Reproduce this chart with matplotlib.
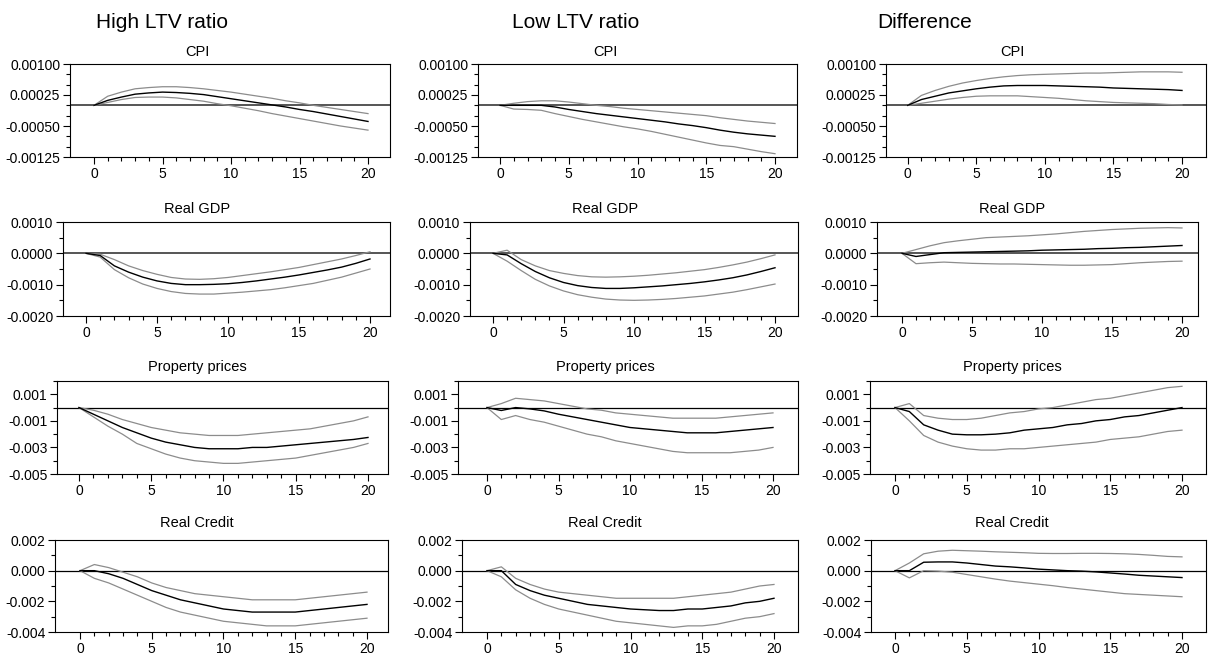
import matplotlib
matplotlib.use("Agg")
import matplotlib.pyplot as plt
from matplotlib.ticker import FixedLocator, MultipleLocator, FuncFormatter
import numpy as np

plt.rcParams['font.family'] = ['Liberation Sans', 'DejaVu Sans']

horizon = list(range(21))
columns = ["High LTV ratio", "Low LTV ratio", "Difference"]
variables = ["CPI", "Real GDP", "Property prices", "Real Credit"]

# ---------------- CPI ----------------
cpi_high_mid = [0, 0.00012, 0.0002, 0.00027, 0.0003, 0.00032, 0.00031, 0.00029, 0.00026, 0.00021, 0.00016,
                0.00011, 0.00006, 0.00001, -0.00004, -0.0001, -0.00015, -0.00021, -0.00027, -0.00033, -0.00039]
cpi_high_up = [0, 0.00022, 0.00032, 0.0004, 0.00043, 0.00045, 0.00045, 0.00043, 0.0004, 0.00036, 0.00032,
               0.00027, 0.00022, 0.00017, 0.00011, 0.00006, 0.0, -0.00005, -0.0001, -0.00015, -0.0002]
cpi_high_lo = [0, 0.00007, 0.00014, 0.00019, 0.0002, 0.0002, 0.00018, 0.00014, 0.0001, 0.00004, -0.00001,
               -0.00007, -0.00013, -0.0002, -0.00026, -0.00032, -0.00038, -0.00044, -0.0005, -0.00055, -0.0006]
cpi_low_mid = [0, 0, 0, 0, -0.00004, -0.0001, -0.00015, -0.0002, -0.00024, -0.00028, -0.00032,
               -0.00036, -0.0004, -0.00045, -0.00049, -0.00054, -0.0006, -0.00065, -0.00069, -0.00072, -0.00075]
cpi_low_up = [0, 0.00005, 0.00009, 0.00011, 0.00011, 0.00008, 0.00004, 0.0, -0.00003, -0.00007, -0.0001,
              -0.00013, -0.00016, -0.00019, -0.00022, -0.00025, -0.0003, -0.00034, -0.00038, -0.00041, -0.00044]
cpi_low_lo = [0, -0.00009, -0.0001, -0.00012, -0.0002, -0.00027, -0.00034, -0.0004, -0.00046, -0.00052, -0.00057,
              -0.00063, -0.0007, -0.00077, -0.00084, -0.00091, -0.00097, -0.001, -0.00106, -0.00112, -0.00117]
cpi_diff_mid = [0, 0.00014, 0.00022, 0.0003, 0.00035, 0.0004, 0.00044, 0.00047, 0.00048, 0.00048, 0.00048,
                0.00047, 0.00046, 0.00045, 0.00044, 0.00042, 0.00041, 0.0004, 0.00039, 0.00038, 0.00036]
cpi_diff_up = [0, 0.00024, 0.00036, 0.00046, 0.00054, 0.0006, 0.00065, 0.00069, 0.00072, 0.00074, 0.00075,
               0.00076, 0.00077, 0.00078, 0.00078, 0.00079, 0.0008, 0.00081, 0.00081, 0.00081, 0.0008]
cpi_diff_lo = [0, 0.00005, 0.0001, 0.00015, 0.00019, 0.00022, 0.00023, 0.00023, 0.00023, 0.00021, 0.00019,
               0.00017, 0.00014, 0.00011, 0.00009, 0.00007, 0.00006, 0.00005, 0.00004, 0.00002, 0.00001]

# ---------------- Real GDP ----------------
gdp_high_mid = [0, -0.00007, -0.0004, -0.0006, -0.00076, -0.00088, -0.00096, -0.001, -0.001, -0.00099, -0.00097,
                -0.00093, -0.00088, -0.00082, -0.00076, -0.00069, -0.00061, -0.00053, -0.00044, -0.00032, -0.00018]
gdp_high_up = [0, -0.00003, -0.0002, -0.0004, -0.00055, -0.00067, -0.00077, -0.00082, -0.00083, -0.00081, -0.00077,
               -0.00071, -0.00065, -0.00059, -0.00052, -0.00045, -0.00036, -0.00027, -0.00018, -0.00007, 0.00005]
gdp_high_lo = [0, -0.00012, -0.00052, -0.00078, -0.00098, -0.00112, -0.00122, -0.00128, -0.0013, -0.0013, -0.00127,
               -0.00124, -0.0012, -0.00116, -0.0011, -0.00103, -0.00096, -0.00086, -0.00076, -0.00063, -0.0005]
gdp_low_mid = [0, -0.00005, -0.00033, -0.00058, -0.00078, -0.00093, -0.00103, -0.00109, -0.00112, -0.00112, -0.0011,
               -0.00107, -0.00104, -0.001, -0.00096, -0.00091, -0.00085, -0.00078, -0.00069, -0.00058, -0.00046]
gdp_low_up = [0, 0.0001, -0.0002, -0.0004, -0.00055, -0.00064, -0.00071, -0.00075, -0.00076, -0.00075, -0.00073,
              -0.0007, -0.00066, -0.00062, -0.00057, -0.00052, -0.00045, -0.00037, -0.00028, -0.00017, -0.00005]
gdp_low_lo = [0, -0.00025, -0.00055, -0.00083, -0.00104, -0.0012, -0.00132, -0.0014, -0.00146, -0.00149, -0.0015,
              -0.00149, -0.00147, -0.00144, -0.0014, -0.00136, -0.0013, -0.00124, -0.00116, -0.00107, -0.00098]
gdp_diff_mid = [0, -0.0001, -0.00004, 0.00002, 0.00003, 0.00004, 0.00005, 0.00006, 0.00007, 0.00008, 0.0001,
                0.00011, 0.00012, 0.00013, 0.00015, 0.00016, 0.00018, 0.00019, 0.00021, 0.00023, 0.00025]
gdp_diff_up = [0, 0.00012, 0.00024, 0.00034, 0.0004, 0.00045, 0.0005, 0.00052, 0.00054, 0.00056, 0.00059,
               0.00062, 0.00066, 0.0007, 0.00073, 0.00076, 0.00078, 0.0008, 0.00081, 0.00082, 0.00081]
gdp_diff_lo = [0, -0.00033, -0.0003, -0.00028, -0.0003, -0.00032, -0.00033, -0.00034, -0.00034, -0.00035, -0.00036,
               -0.00037, -0.00038, -0.00038, -0.00037, -0.00036, -0.00033, -0.0003, -0.00028, -0.00026, -0.00025]

# ---------------- Property prices ----------------
prop_high_mid = [0, -0.0005, -0.001, -0.0015, -0.0019, -0.0023, -0.0026, -0.0028, -0.003, -0.0031, -0.0031,
                 -0.0031, -0.003, -0.003, -0.0029, -0.0028, -0.0027, -0.0026, -0.0025, -0.0024, -0.00225]
prop_high_up = [0, -0.0002, -0.0005, -0.0009, -0.0012, -0.0015, -0.0017, -0.0019, -0.002, -0.0021, -0.0021,
                -0.0021, -0.002, -0.0019, -0.0018, -0.0017, -0.0016, -0.0014, -0.0012, -0.001, -0.0007]
prop_high_lo = [0, -0.0007, -0.0014, -0.002, -0.0027, -0.0031, -0.0035, -0.0038, -0.004, -0.0041, -0.0042,
                -0.0042, -0.0041, -0.004, -0.0039, -0.0038, -0.0036, -0.0034, -0.0032, -0.003, -0.0027]
prop_low_mid = [0, -0.00022, 0.0, -0.0001, -0.00025, -0.0005, -0.0007, -0.0009, -0.0011, -0.0013, -0.0015,
                -0.0016, -0.0017, -0.0018, -0.0019, -0.0019, -0.0019, -0.0018, -0.0017, -0.0016, -0.0015]
prop_low_up = [0, 0.0003, 0.0007, 0.0006, 0.0005, 0.0003, 0.0001, -0.0001, -0.0002, -0.0004, -0.0005,
               -0.0006, -0.0007, -0.0008, -0.0008, -0.0008, -0.0008, -0.0007, -0.0006, -0.0005, -0.0004]
prop_low_lo = [0, -0.0009, -0.0006, -0.0009, -0.0011, -0.0014, -0.0017, -0.002, -0.0022, -0.0025, -0.0027,
               -0.0029, -0.0031, -0.0033, -0.0034, -0.0034, -0.0034, -0.0034, -0.0033, -0.0032, -0.003]
prop_diff_mid = [0, -0.0003, -0.0013, -0.0017, -0.002, -0.00205, -0.00205, -0.002, -0.0019, -0.0017, -0.0016,
                 -0.0015, -0.0013, -0.0012, -0.001, -0.0009, -0.0007, -0.0006, -0.0004, -0.0002, 0.0]
prop_diff_up = [0, 0.0003, -0.0006, -0.0008, -0.0009, -0.0009, -0.0008, -0.0006, -0.0004, -0.0003, -0.0001,
                0.0, 0.0002, 0.0004, 0.0006, 0.0007, 0.0009, 0.0011, 0.0013, 0.0015, 0.0016]
prop_diff_lo = [0, -0.001, -0.0021, -0.0026, -0.0029, -0.0031, -0.0032, -0.0032, -0.0031, -0.0031, -0.003,
                -0.0029, -0.0028, -0.0027, -0.0026, -0.0024, -0.0023, -0.0022, -0.002, -0.0018, -0.0017]

# ---------------- Real Credit ----------------
cred_high_mid = [0, 0.0, -0.0002, -0.0005, -0.0009, -0.0013, -0.0016, -0.0019, -0.0021, -0.0023, -0.0025,
                 -0.0026, -0.0027, -0.0027, -0.0027, -0.0027, -0.0026, -0.0025, -0.0024, -0.0023, -0.0022]
cred_high_up = [0, 0.0004, 0.0002, -0.0001, -0.0004, -0.0008, -0.0011, -0.0013, -0.0015, -0.0016, -0.0017,
                -0.0018, -0.0019, -0.0019, -0.0019, -0.0019, -0.0018, -0.0017, -0.0016, -0.0015, -0.0014]
cred_high_lo = [0, -0.0005, -0.0008, -0.0012, -0.0016, -0.002, -0.0024, -0.0027, -0.0029, -0.0031, -0.0033,
                -0.0034, -0.0035, -0.0036, -0.0036, -0.0036, -0.0035, -0.0034, -0.0033, -0.0032, -0.0031]
cred_low_mid = [0, 0.0, -0.0009, -0.0013, -0.0016, -0.0018, -0.002, -0.0022, -0.0023, -0.0024, -0.0025,
                -0.00255, -0.0026, -0.0026, -0.0025, -0.0025, -0.0024, -0.0023, -0.0021, -0.002, -0.0018]
cred_low_up = [0, 0.00025, -0.0005, -0.0009, -0.0012, -0.0014, -0.0015, -0.0016, -0.0017, -0.0018, -0.0018,
               -0.0018, -0.0018, -0.0018, -0.0017, -0.0016, -0.0015, -0.0014, -0.0012, -0.001, -0.0009]
cred_low_lo = [0, -0.0004, -0.00125, -0.0018, -0.0022, -0.0025, -0.0027, -0.0029, -0.0031, -0.0033, -0.0034,
               -0.0035, -0.0036, -0.0037, -0.0036, -0.0036, -0.0035, -0.0033, -0.0031, -0.003, -0.0028]
cred_diff_mid = [0, 0.0, 0.00055, 0.00057, 0.00057, 0.0005, 0.0004, 0.0003, 0.00025, 0.00018, 0.0001,
                 0.00005, 0.0, -0.00003, -0.00008, -0.00015, -0.00022, -0.0003, -0.00035, -0.0004, -0.00045]
cred_diff_up = [0, 0.0005, 0.0011, 0.00127, 0.00133, 0.0013, 0.00127, 0.00123, 0.0012, 0.00117, 0.00113,
                0.00112, 0.00112, 0.00113, 0.00113, 0.00112, 0.0011, 0.00106, 0.001, 0.00093, 0.0009]
cred_diff_lo = [0, -0.00047, 0.0, -0.00003, -0.0001, -0.00025, -0.0004, -0.00055, -0.00068, -0.00078, -0.00088,
                -0.00098, -0.0011, -0.0012, -0.0013, -0.0014, -0.0015, -0.00155, -0.0016, -0.00165, -0.0017]

# y-axis ticks per variable
cpi_ticks = [0.00100, 0.00025, -0.00050, -0.00125]
gdp_ticks = [0.0010, 0.0000, -0.0010, -0.0020]
prop_ticks = [0.001, -0.001, -0.003, -0.005]
cred_ticks = [0.002, 0.000, -0.002, -0.004]
x_ticks = [0, 5, 10, 15, 20]

series = [
    [(cpi_high_mid, cpi_high_up, cpi_high_lo), (cpi_low_mid, cpi_low_up, cpi_low_lo), (cpi_diff_mid, cpi_diff_up, cpi_diff_lo)],
    [(gdp_high_mid, gdp_high_up, gdp_high_lo), (gdp_low_mid, gdp_low_up, gdp_low_lo), (gdp_diff_mid, gdp_diff_up, gdp_diff_lo)],
    [(prop_high_mid, prop_high_up, prop_high_lo), (prop_low_mid, prop_low_up, prop_low_lo), (prop_diff_mid, prop_diff_up, prop_diff_lo)],
    [(cred_high_mid, cred_high_up, cred_high_lo), (cred_low_mid, cred_low_up, cred_low_lo), (cred_diff_mid, cred_diff_up, cred_diff_lo)],
]

row_style = [
    dict(ticks=cpi_ticks, ylim=(-0.00125, 0.00100), minor=0.00025, fmt="{:.5f}", zc="#555555", zw=1.4),
    dict(ticks=gdp_ticks, ylim=(-0.0020, 0.0010), minor=0.0005, fmt="{:.4f}", zc="#555555", zw=1.4),
    dict(ticks=prop_ticks, ylim=(-0.005, 0.002), minor=0.001, fmt="{:.3f}", zc="#000000", zw=0.9),
    dict(ticks=cred_ticks, ylim=(-0.004, 0.002), minor=0.001, fmt="{:.3f}", zc="#000000", zw=0.9),
]

W, H = 1209, 654
fig = plt.figure(figsize=(W / 100, H / 100), dpi=100)

# layout in pixels (left, right) per panel, (top, bottom) per row
box_lr = [[(70, 390), (478, 797), (886, 1206)],
          [(63, 390), (470, 798), (877, 1198)],
          [(57, 388), (458, 798), (870, 1206)],
          [(55, 388), (462, 798), (871, 1206)]]
box_tb = [(64, 157), (222, 316), (381, 474), (540, 632)]
t_px = [[(94, 368), (500, 775), (907.7, 1182)],
        [(86, 370), (493, 775), (902, 1182)],
        [(79, 368), (487, 773), (895, 1182)],
        [(80, 367), (487, 774), (895, 1182)]]
title_x = [197, 605, 1012]
title_y = [52, 209, 367, 523]

for r in range(4):
    st = row_style[r]
    for c in range(3):
        L, R = box_lr[r][c]
        T, B = box_tb[r]
        ax = fig.add_axes([L / W, 1 - B / H, (R - L) / W, (B - T) / H])
        mid, up, lo = series[r][c]
        ax.axhline(0, color=st["zc"], lw=st["zw"], zorder=1)
        ax.plot(horizon, up, color="#8c8c8c", lw=0.9, zorder=2)
        ax.plot(horizon, lo, color="#8c8c8c", lw=0.9, zorder=2)
        ax.plot(horizon, mid, color="black", lw=1.0, zorder=3)
        t0, t20 = t_px[r][c]
        u = (t20 - t0) / 20.0
        ax.set_xlim((L - t0) / u, (R - t0) / u)
        ax.set_ylim(*st["ylim"])
        ax.yaxis.set_major_locator(FixedLocator(st["ticks"]))
        ax.yaxis.set_minor_locator(MultipleLocator(st["minor"]))
        fmt = st["fmt"]
        ax.yaxis.set_major_formatter(FuncFormatter(lambda v, p, f=fmt: f.format(v) if abs(v) > 1e-12 else f.format(0.0)))
        ax.xaxis.set_major_locator(FixedLocator(x_ticks))
        ax.xaxis.set_minor_locator(FixedLocator(horizon))
        ax.tick_params(axis="both", which="major", direction="out", length=5, width=0.8,
                       labelsize=10, pad=2, color="black")
        ax.tick_params(axis="both", which="minor", direction="out", length=3, width=0.8, color="black")
        for s in ax.spines.values():
            s.set_linewidth(0.8)
            s.set_color("black")
        fig.text(title_x[c] / W, 1 - title_y[r] / H, variables[r], ha="center", va="center", fontsize=10.5)

header_x = [162, 576, 925]
for c in range(3):
    fig.text(header_x[c] / W, 1 - 22 / H, columns[c], ha="center", va="center", fontsize=15)

fig.savefig("out.png", dpi=100)
